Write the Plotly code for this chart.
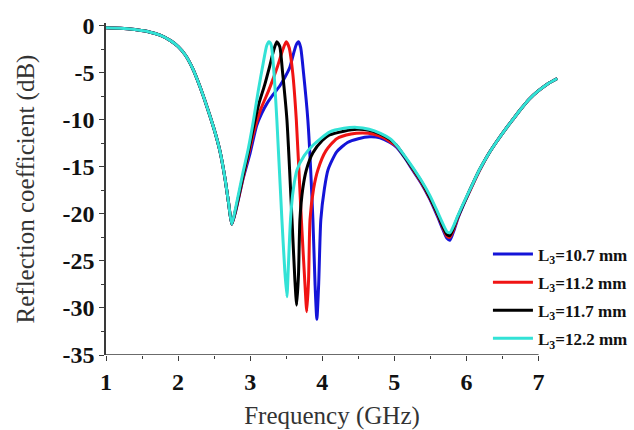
import plotly.graph_objects as go

# ---- data ----
common_f = [1.00, 1.20, 1.40, 1.60, 1.75, 1.90, 2.00, 2.10, 2.20, 2.30, 2.40, 2.50, 2.58, 2.65, 2.70, 2.745]
common_db = [-0.2, -0.25, -0.4, -0.65, -1.0, -1.6, -2.2, -3.1, -4.5, -6.4, -8.6, -11.0, -13.3, -16.2, -18.8, -21.1]

tail_f = [5.15, 5.25, 5.37, 5.49, 5.60, 5.67, 5.73, 5.77, 5.82, 5.88, 5.95, 6.05, 6.18, 6.30,
          6.42, 6.55, 6.64, 6.75, 6.87, 7.00, 7.12, 7.26]
tail_db_cyan = [-13.9, -15.0, -16.4, -18.0, -19.8, -21.0, -21.9, -22.0, -21.3, -20.2, -19.0, -17.4,
                -15.3, -13.7, -12.3, -10.9, -10.0, -8.9, -7.8, -6.9, -6.2, -5.6]
tail_db_black = [-14.0, -15.1, -16.5, -18.2, -20.0, -21.3, -22.2, -22.3, -21.5, -20.3, -19.1, -17.4,
                 -15.3, -13.7, -12.3, -10.9, -10.0, -8.9, -7.8, -6.9, -6.2, -5.6]
tail_db_red = [-14.0, -15.2, -16.6, -18.3, -20.1, -21.4, -22.4, -22.5, -21.7, -20.4, -19.1, -17.5,
               -15.4, -13.7, -12.3, -10.9, -10.0, -8.9, -7.8, -6.9, -6.2, -5.6]
tail_db_blue = [-14.1, -15.3, -16.7, -18.4, -20.3, -21.6, -22.6, -22.8, -21.9, -20.5, -19.2, -17.5,
                -15.4, -13.7, -12.3, -10.9, -10.0, -8.9, -7.8, -6.9, -6.2, -5.6]

mid_f_blue = [2.80, 2.90, 3.00, 3.09, 3.16, 3.23, 3.32, 3.41, 3.48, 3.55, 3.60, 3.64, 3.67, 3.70, 3.74,
              3.80, 3.87, 3.90, 3.925, 3.95, 3.98, 4.03, 4.08, 4.20, 4.35, 4.50, 4.66, 4.80, 4.94, 5.03]
mid_db_blue = [-19.7, -16.3, -13.5, -10.6, -9.3, -8.3, -7.3, -6.4, -5.5, -4.4, -3.0, -2.0, -1.7, -2.3, -5.0,
               -10.0, -20.6, -27.5, -31.2, -27.5, -20.6, -17.3, -15.3, -13.4, -12.4, -12.0, -11.8, -11.9, -12.4, -12.9]

mid_f_red = [2.80, 2.90, 2.97, 3.06, 3.15, 3.25, 3.31, 3.38, 3.45, 3.50, 3.54, 3.59, 3.64, 3.71, 3.76,
             3.785, 3.81, 3.83, 3.88, 3.94, 4.05, 4.20, 4.40, 4.56, 4.70, 4.85, 5.03]
mid_db_red = [-19.6, -16.2, -13.9, -11.0, -8.8, -7.0, -5.8, -4.3, -2.6, -1.7, -2.3, -5.0, -10.0, -20.6, -27.5,
              -30.4, -27.0, -20.6, -17.3, -15.3, -13.3, -12.0, -11.5, -11.4, -11.5, -11.9, -12.8]

mid_f_black = [2.80, 2.90, 2.97, 3.04, 3.12, 3.20, 3.27, 3.33, 3.37, 3.41, 3.45, 3.51, 3.58, 3.62,
               3.645, 3.67, 3.69, 3.73, 3.78, 3.87, 4.00, 4.10, 4.30, 4.48, 4.65, 4.80, 4.94, 5.03]
mid_db_black = [-19.5, -16.0, -13.6, -11.0, -8.3, -6.3, -4.3, -2.5, -1.7, -2.2, -5.0, -10.0, -20.6, -27.0,
                -29.7, -26.5, -20.6, -17.3, -15.3, -13.5, -12.2, -11.6, -11.2, -11.0, -11.1, -11.5, -12.1, -12.7]

mid_f_cyan = [2.80, 2.90, 2.97, 3.04, 3.11, 3.18, 3.23, 3.26, 3.29, 3.33, 3.37, 3.44, 3.48, 3.51,
              3.53, 3.56, 3.60, 3.65, 3.75, 3.87, 4.10, 4.30, 4.48, 4.65, 4.80, 4.94, 5.03]
mid_db_cyan = [-19.3, -15.6, -13.2, -10.3, -7.0, -4.0, -2.1, -1.7, -2.0, -5.0, -10.0, -20.6, -26.0, -28.8,
               -25.5, -20.5, -17.3, -15.3, -13.8, -12.7, -11.3, -10.9, -10.8, -11.0, -11.4, -12.0, -12.7]

series_names = ["L<sub>3</sub>=10.7 mm", "L<sub>3</sub>=11.2 mm", "L<sub>3</sub>=11.7 mm", "L<sub>3</sub>=12.2 mm"]
series_colors = ["#1414D8", "#F01414", "#000000", "#33E2D6"]
series_mid_f = [mid_f_blue, mid_f_red, mid_f_black, mid_f_cyan]
series_mid_db = [mid_db_blue, mid_db_red, mid_db_black, mid_db_cyan]
series_tail_db = [tail_db_blue, tail_db_red, tail_db_black, tail_db_cyan]

x_ticks = [1, 2, 3, 4, 5, 6, 7]
y_ticks = [0, -5, -10, -15, -20, -25, -30, -35]

fig = go.Figure()
for i in range(4):
    xs = common_f + series_mid_f[i] + tail_f
    ys = common_db + series_mid_db[i] + series_tail_db[i]
    fig.add_trace(go.Scatter(
        x=xs, y=ys, mode="lines", name="<b>" + series_names[i] + "</b>",
        legendgroup="g%d" % i,
        line=dict(color=series_colors[i], width=3, shape="spline", smoothing=0.6),
    ))

serif = "Liberation Serif, Times New Roman, serif"
axis_col = "#3a3a3a"

fig.add_shape(type="line", xref="x", yref="y", x0=1, x1=7, y0=-35, y1=-35,
              line=dict(color=axis_col, width=1.5), layer="above")

fig.update_layout(
    width=634, height=430,
    margin=dict(l=106, r=76, t=23, b=75, autoexpand=False),
    paper_bgcolor="white", plot_bgcolor="white",
    showlegend=True,
    legend=dict(x=0.845, y=0.357, xanchor="left", yanchor="top",
                font=dict(family=serif, size=17, color="#111"),
                tracegroupgap=3, itemwidth=40, bgcolor="rgba(0,0,0,0)"),
    xaxis=dict(
        range=[1, 7.27], tickmode="array", tickvals=x_ticks,
        ticktext=[str(v) for v in x_ticks], automargin=False,
        ticks="outside", ticklen=5, tickwidth=1.2, tickcolor=axis_col,
        showline=False, showgrid=False, zeroline=False,
        minor=dict(tickmode="array", tickvals=[1.5, 2.5, 3.5, 4.5, 5.5, 6.5], ticks="outside",
                   ticklen=3, tickcolor=axis_col, showgrid=False),
        tickfont=dict(family=serif, size=24, color="#111", weight="bold"),
        title=dict(text="Frequency (GHz)", font=dict(family=serif, size=25, color="#333"), standoff=12),
    ),
    yaxis=dict(
        range=[-35, 0.3], tickmode="array", tickvals=y_ticks,
        ticktext=[str(v) for v in y_ticks], automargin=False,
        ticks="outside", ticklen=5, tickwidth=1.2, tickcolor=axis_col,
        showline=True, linecolor=axis_col, linewidth=1.5,
        showgrid=False, zeroline=False,
        minor=dict(tickmode="array", tickvals=[-2.5, -7.5, -12.5, -17.5, -22.5, -27.5, -32.5],
                   ticks="outside", ticklen=3, tickcolor=axis_col, showgrid=False),
        tickfont=dict(family=serif, size=24, color="#111", weight="bold"),
        title=dict(text="Reflection coefficient (dB)", font=dict(family=serif, size=25, color="#333"), standoff=21),
    ),
)

fig.write_html("out.html", config={"displayModeBar": False},
               post_script="document.body.style.margin='0px';")
